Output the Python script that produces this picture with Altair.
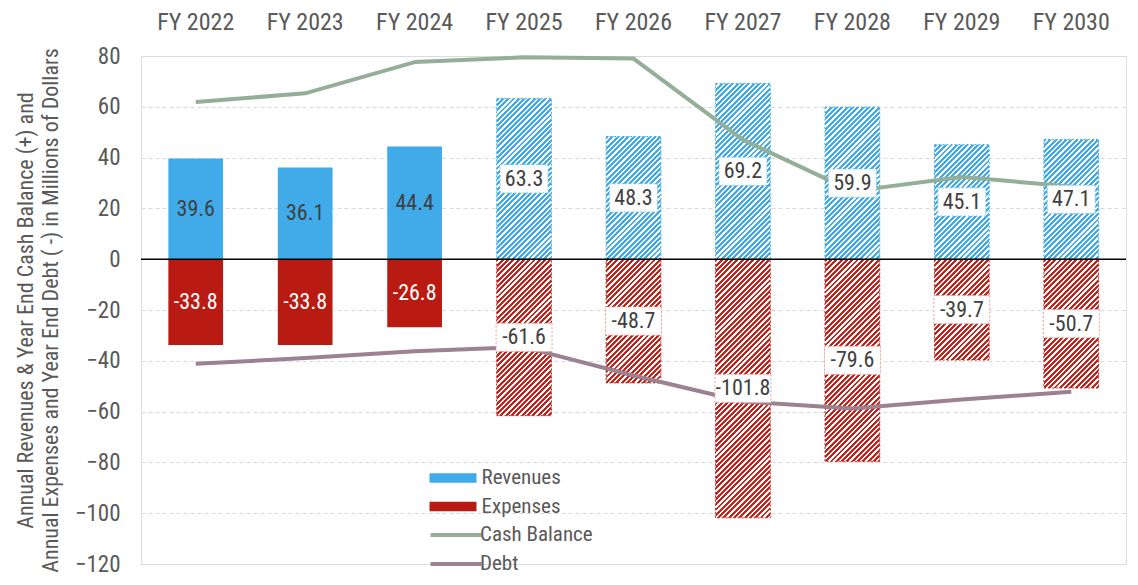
import math
import altair as alt
import pandas as pd

# ---------------- data ----------------
years = ["FY 2022", "FY 2023", "FY 2024", "FY 2025", "FY 2026",
         "FY 2027", "FY 2028", "FY 2029", "FY 2030"]
revenues = [39.6, 36.1, 44.4, 63.3, 48.3, 69.2, 59.9, 45.1, 47.1]
expenses = [-33.8, -33.8, -26.8, -61.6, -48.7, -101.8, -79.6, -39.7, -50.7]
cash_balance = [61.9, 65.3, 77.6, 79.5, 79.0, 47.0, 26.8, 32.4, 28.6]
debt = [-41.2, -38.9, -36.2, -34.6, -45.8, -56.0, -58.8, -55.2, -52.2]
projected = [False, False, False, True, True, True, True, True, True]
y_ticks = [-120, -100, -80, -60, -40, -20, 0, 20, 40, 60, 80]

# ---------------- style ----------------
W, H = 985, 508
Y_MIN, Y_MAX = -120, 80
PX_PER_UNIT = H / (Y_MAX - Y_MIN)
BAR_W = W / 9 * 0.5
BLUE = "#41ABEA"
RED = "#B91B12"
RED_HATCH = "#C4231B"
GREEN = "#94AE97"
MAUVE = "#9C8190"
GREY = "#595959"
DARK = "#404040"
FONT = "Liberation Sans Narrow, Arial Narrow, Roboto Condensed, Liberation Sans, Arial, sans-serif"

rows = []
for i, yr in enumerate(years):
    rows.append(dict(year=yr, series="Revenues", value=revenues[i], mid=revenues[i] / 2,
                     proj=projected[i], label=f"{revenues[i]:.1f}"))
    rows.append(dict(year=yr, series="Expenses", value=expenses[i], mid=expenses[i] / 2,
                     proj=projected[i], label=f"{expenses[i]:.1f}"))
bars = pd.DataFrame(rows)

lrows = []
for i, yr in enumerate(years):
    lrows.append(dict(year=yr, series="Cash Balance", value=cash_balance[i]))
    lrows.append(dict(year=yr, series="Debt", value=debt[i]))
lines = pd.DataFrame(lrows)

x_enc = alt.X("year:N", sort=years,
              scale=alt.Scale(domain=years, paddingInner=0.5, paddingOuter=0.25),
              axis=alt.Axis(orient="top", title=None, labelAngle=0, domain=False, ticks=False,
                            grid=False, labelFontSize=24, labelColor=GREY, labelFont=FONT,
                            labelPadding=22))
y_scale = alt.Scale(domain=[Y_MIN, Y_MAX], nice=False, zero=False)
y_axis = alt.Axis(values=y_ticks, domain=False, ticks=False, grid=True, gridDash=[4, 3],
                  gridColor="#D9D9D9", gridWidth=1, labelFontSize=23, labelColor=GREY,
                  labelFont=FONT, labelPadding=21,
                  title=["Annual Revenues  & Year End Cash Balance (+) and",
                         "Annual Expenses and Year  End Debt ( -) in Millions of Dollars"],
                  titleFontSize=22, titleFontWeight="normal", titleColor=GREY, titleFont=FONT,
                  titlePadding=12, titleLineHeight=25)


def hatch(color, value):
    h = abs(value) * PX_PER_UNIT
    w = BAR_W
    period = 3.75
    n = (w + h) / math.sqrt(2) / period
    t = (1 / h + 1 / w) / (1 / h ** 2 + 1 / w ** 2)
    stops = []
    k = 0
    while k < n:
        a = k / n
        b = min((k + 0.55) / n, 1.0)
        c = min((k + 1) / n, 1.0)
        stops += [alt.GradientStop(offset=a, color=color),
                  alt.GradientStop(offset=b, color=color),
                  alt.GradientStop(offset=b, color="#FFFFFF"),
                  alt.GradientStop(offset=c, color="#FFFFFF")]
        k += 1
    return alt.LinearGradient(gradient="linear", stops=stops, x1=0, y1=0, x2=t / h, y2=t / w)


base = alt.Chart(bars)

solid = base.transform_filter("!datum.proj").mark_bar(width=BAR_W).encode(
    x=x_enc,
    y=alt.Y("value:Q", scale=y_scale, axis=y_axis),
    fill=alt.Fill("series:N",
                  scale=alt.Scale(domain=["Revenues", "Expenses"], range=[BLUE, RED]),
                  legend=alt.Legend(orient="none", legendX=300, legendY=410, title=None,
                                    symbolType="M-2,-0.4H2V0.4H-2Z", symbolSize=552,
                                    symbolStrokeWidth=0, labelFontSize=21, labelColor=GREY,
                                    labelFont=FONT, labelOffset=16.5, rowPadding=6.5)),
)

hatched_layers = []
for i, yr in enumerate(years):
    if not projected[i]:
        continue
    for ser, val, col in (("Revenues", revenues[i], BLUE), ("Expenses", expenses[i], RED_HATCH)):
        hatched_layers.append(
            base.transform_filter(
                (alt.datum.year == yr) & (alt.datum.series == ser)
            ).mark_bar(width=BAR_W, fill=hatch(col, val), stroke=col, strokeWidth=1,
                       strokeDash=[2, 2]).encode(
                x=alt.X("year:N", sort=years),
                y=alt.Y("value:Q"),
            )
        )

zero = alt.Chart(pd.DataFrame({"zero": [0]})).mark_rule(color="black", strokeWidth=1.5).encode(
    y="zero:Q")

line = alt.Chart(lines).mark_line(strokeWidth=4, strokeJoin="round").encode(
    x=alt.X("year:N", sort=years),
    y=alt.Y("value:Q"),
    stroke=alt.Stroke("series:N",
                      scale=alt.Scale(domain=["Cash Balance", "Debt"], range=[GREEN, MAUVE]),
                      legend=alt.Legend(orient="none", legendX=300, legendY=464, title=None,
                                        symbolType="M-2,0H2", symbolSize=650,
                                        symbolFillColor="transparent",
                                        symbolStrokeWidth=4, labelFontSize=21,
                                        labelColor=GREY, labelFont=FONT, labelOffset=9,
                                        rowPadding=4)),
    detail="series:N",
)

rev_shape = "M-0.9,-0.53H0.9V0.53H-0.9Z"
exp_shape = "M-1.05,-0.53H1.05V0.53H-1.05Z"
rev_boxes = base.transform_filter("datum.proj && datum.series == 'Revenues'").mark_point(
    shape=rev_shape, size=2844, filled=True, fill="#FFFFFF", opacity=1, stroke="#7CC4F0",
    strokeWidth=1, strokeDash=[2, 2]).encode(x=alt.X("year:N", sort=years), y=alt.Y("mid:Q"))
exp_boxes = base.transform_filter("datum.proj && datum.series == 'Expenses'").mark_point(
    shape=exp_shape, size=2844, filled=True, fill="#FFFFFF", opacity=1, stroke="#EBA3A0",
    strokeWidth=1, strokeDash=[2, 2]).encode(x=alt.X("year:N", sort=years), y=alt.Y("mid:Q"))

labels_dark = base.transform_filter("datum.proj || datum.series == 'Revenues'").mark_text(
    fontSize=22, font=FONT, color=DARK, baseline="middle").encode(
    x=alt.X("year:N", sort=years), y=alt.Y("mid:Q"), text="label:N")
labels_white = base.transform_filter("!datum.proj && datum.series == 'Expenses'").mark_text(
    fontSize=22, font=FONT, color="#FFFFFF", baseline="middle").encode(
    x=alt.X("year:N", sort=years), y=alt.Y("mid:Q"), text="label:N")

chart = alt.layer(solid, *hatched_layers, zero, line, rev_boxes, exp_boxes,
                  labels_dark, labels_white).resolve_scale(fill="independent").properties(
    width=W, height=H,
    autosize=alt.AutoSizeParams(type="none"),
    padding={"left": 133, "top": 48, "right": 4, "bottom": 12},
).configure_view(stroke=None).configure(font=FONT)

chart.save("out.html", embed_options={"renderer": "svg", "actions": False})
